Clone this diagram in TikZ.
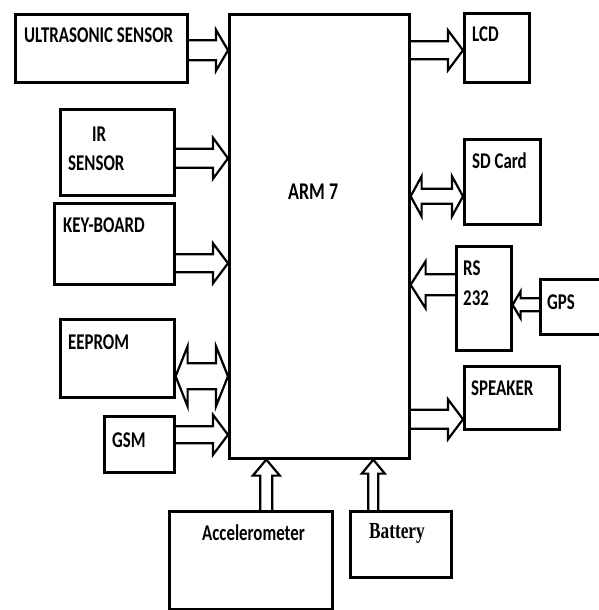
\documentclass[tikz,border=0pt]{standalone}
\usepackage{fontspec}
\newfontfamily\lblfont{Carlito}[FakeStretch=0.75]
\newfontfamily\batfont{Liberation Serif}[FakeStretch=0.75]
\usetikzlibrary{calc}

\tikzset{
  box/.style={draw, line width=2.6pt, inner sep=0pt, anchor=north west},
  lbl/.style={inner sep=0pt, anchor=base west, font=\lblfont\bfseries\fontsize{22.5}{26}\selectfont},
  % hollow block arrow: shaft half width, head half width, head length
  blk/.style n args={3}{line width=2.2pt, line join=miter, to path={
      ($(\tikztostart)!#1!90:(\tikztotarget)$)
      -- ($(\tikztotarget)!#3!(\tikztostart)!#1!-90:(\tikztostart)$)
      -- ($(\tikztotarget)!#3!(\tikztostart)!#2!-90:(\tikztostart)$)
      -- (\tikztotarget)
      -- ($(\tikztotarget)!#3!(\tikztostart)!#2!90:(\tikztostart)$)
      -- ($(\tikztotarget)!#3!(\tikztostart)!#1!90:(\tikztostart)$)
      -- ($(\tikztostart)!#1!-90:(\tikztotarget)$)}},
  % same, with a head at both ends
  blkk/.style n args={3}{line width=2.2pt, line join=miter, to path={
      -- ($(\tikztostart)!#3!(\tikztotarget)!#2!90:(\tikztotarget)$)
      -- ($(\tikztostart)!#3!(\tikztotarget)!#1!90:(\tikztotarget)$)
      -- ($(\tikztotarget)!#3!(\tikztostart)!#1!-90:(\tikztostart)$)
      -- ($(\tikztotarget)!#3!(\tikztostart)!#2!-90:(\tikztostart)$)
      -- (\tikztotarget)
      -- ($(\tikztotarget)!#3!(\tikztostart)!#2!90:(\tikztostart)$)
      -- ($(\tikztotarget)!#3!(\tikztostart)!#1!90:(\tikztostart)$)
      -- ($(\tikztostart)!#3!(\tikztotarget)!#1!-90:(\tikztotarget)$)
      -- ($(\tikztostart)!#3!(\tikztotarget)!#2!-90:(\tikztotarget)$)
      -- cycle}}
}

\begin{document}
\begin{tikzpicture}[x=1pt, y=-1pt]
  \useasboundingbox (0,0) rectangle (598,610);

  % controller
  \node[box, minimum width=180pt, minimum height=444pt] (arm) at (228,13) {};
  \node[lbl, font=\lblfont\bfseries\fontsize{24}{28}\selectfont] (armtxt) at (288,199) {ARM 7};

  % left side
  \node[box, minimum width=172pt, minimum height=68pt] (us)  at (14,13)  {};
  \node[box, minimum width=114pt, minimum height=86pt] (ir)  at (59,108) {};
  \node[box, minimum width=120pt, minimum height=81pt] (kb)  at (53,202) {};
  \node[box, minimum width=114pt, minimum height=78pt] (ee)  at (59,318) {};
  \node[box, minimum width=70pt,  minimum height=56pt] (gsm) at (103,415) {};

  \node[lbl] (ustxt)  at (24,43)  {ULTRASONIC SENSOR};
  \node[lbl] (irtxt)  at (92,141) {IR};
  \node[lbl] (irtxtb) at (68,170) {SENSOR};
  \node[lbl] (kbtxt)  at (63,232) {KEY-BOARD};
  \node[lbl] (eetxt)  at (68,349) {EEPROM};
  \node[lbl] (gsmtxt) at (112,447) {GSM};

  % right side
  \node[box, minimum width=65pt, minimum height=69pt]  (lcd) at (463,12)  {};
  \node[box, minimum width=76pt, minimum height=85pt]  (sd)  at (463,138) {};
  \node[box, minimum width=55pt, minimum height=104pt] (rs)  at (455,245) {};
  \node[box, minimum width=63pt, minimum height=55pt]  (gps) at (539,278) {};
  \node[box, minimum width=95pt, minimum height=63pt]  (spk) at (463,365) {};

  \node[lbl] (lcdtxt) at (472,42)  {LCD};
  \node[lbl] (sdtxt)  at (472,168) {SD Card};
  \node[lbl] (rstxt)  at (463,275) {RS};
  \node[lbl] (rstxtb) at (463,305) {232};
  \node[lbl] (gpstxt) at (547,309) {GPS};
  \node[lbl] (spktxt) at (471,395) {SPEAKER};

  % bottom
  \node[box, minimum width=163pt, minimum height=98pt] (acc) at (168,510) {};
  \node[box, minimum width=101pt, minimum height=66pt] (bat) at (349,510) {};
  \node[lbl] (acctxt) at (202,540) {Accelerometer};
  \node[lbl, font=\batfont\bfseries\fontsize{23}{27}\selectfont] (battxt) at (369,538) {Battery};

  % buses
  \draw[blk={10pt}{20.5pt}{12pt}]  ([yshift=-2pt]us.east)    to ([yshift=-2pt]us.east -| arm.west);
  \draw[blk={9.5pt}{20.5pt}{15pt}] ([yshift=-6pt]ir.east)    to ([yshift=-6pt]ir.east -| arm.west);
  \draw[blk={9pt}{20pt}{15pt}]     ([yshift=-19.5pt]kb.east) to ([yshift=-19.5pt]kb.east -| arm.west);
  \draw[blkk={13pt}{30pt}{12pt}]   ([yshift=-18pt]ee.east)   to ([yshift=-18pt]ee.east -| arm.west);
  \draw[blk={8.5pt}{20pt}{15pt}]   ([yshift=9.5pt]gsm.east)  to ([yshift=9.5pt]gsm.east -| arm.west);

  \draw[blk={9pt}{20pt}{15pt}]     ([yshift=-2.5pt]lcd.west -| arm.east)  to ([yshift=-2.5pt]lcd.west);
  \draw[blkk={7.5pt}{20pt}{11pt}]  ([yshift=-14.5pt]sd.west -| arm.east)  to ([yshift=-14.5pt]sd.west);
  \draw[blk={10.5pt}{23.5pt}{15pt}] ([yshift=13.5pt]rs.west) to ([yshift=13.5pt]rs.west -| arm.east);
  \draw[blk={6.5pt}{13.5pt}{8pt}]  ([yshift=2pt]gps.west)    to ([yshift=2pt]gps.west -| rs.east);
  \draw[blk={9.5pt}{20pt}{15pt}]   ([yshift=-21.5pt]spk.west -| arm.east) to ([yshift=-21.5pt]spk.west);

  \draw[blk={6pt}{13.5pt}{16pt}]   ([xshift=15.5pt]acc.north)  to ([xshift=15.5pt]acc.north |- arm.south);
  \draw[blk={5pt}{11.5pt}{14pt}]   ([xshift=-27.5pt]bat.north) to ([xshift=-27.5pt]bat.north |- arm.south);
\end{tikzpicture}
\end{document}
